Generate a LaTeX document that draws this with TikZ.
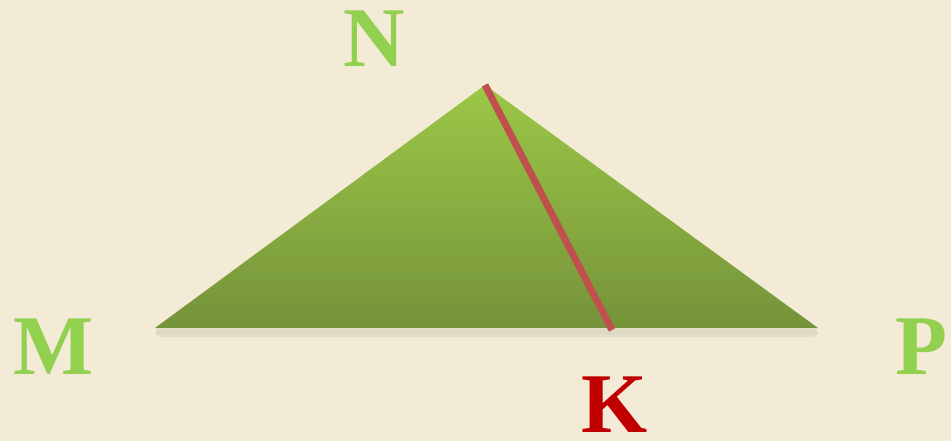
\documentclass[tikz,border=0pt]{standalone}
\usepackage{fontspec}
\setmainfont{Liberation Serif}
\definecolor{bgC}{HTML}{F3EBD5}
\definecolor{triTop}{HTML}{9CC747}
\definecolor{triBot}{HTML}{75933A}
\definecolor{lblGreen}{HTML}{92D050}
\definecolor{lblRed}{HTML}{C00000}
\definecolor{segRed}{HTML}{C0504D}
\tikzset{
  vlabel/.style={inner sep=0pt, font=\fontsize{85}{85}\selectfont\bfseries, text=lblGreen},
  klabel/.style={vlabel, text=lblRed},
  seg/.style={draw=segRed, line width=7pt},
}
\begin{document}
\begin{tikzpicture}[x=1pt,y=-1pt]
\fill[bgC] (0,0) rectangle (951,441);
\useasboundingbox (0,0) rectangle (951,441);
\coordinate (M) at (155,328);
\coordinate (N) at (485,85);
\coordinate (P) at (818,328);
\coordinate (K) at (612,330);
\fill[black, opacity=0.08] (157,329) -- (816,329) -- (818,334) -- (155,334) -- cycle;
\fill[black, opacity=0.06] (157,334) -- (816,334) -- (814,337) -- (159,337) -- cycle;
\shade[top color=triTop, bottom color=triBot] (M) -- (N) -- (P) -- cycle;
\draw[seg] (N) -- (K);
\node[vlabel] (lN) at (374,39) {N};
\node[vlabel] (lM) at (54,347) {M};
\node[vlabel] (lP) at (921,347) {P};
\node[klabel] (lK) at (615,405) {K};
\end{tikzpicture}
\end{document}
